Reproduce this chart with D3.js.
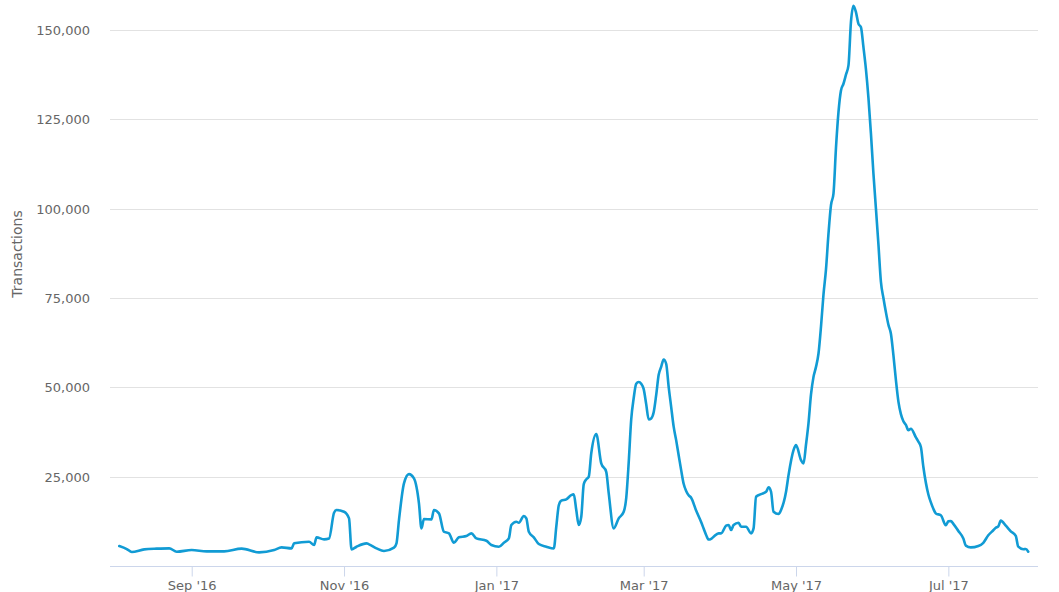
<!DOCTYPE html>
<html>
<head>
<meta charset="utf-8">
<script src="https://cdn.jsdelivr.net/npm/d3@7"></script>
<style>
  html, body { margin: 0; padding: 0; background: #fff; }
  svg { display: block; }
</style>
</head>
<body>
<svg id="chart" width="1059" height="592"></svg>
<script>
const dates = [
"2016-08-03","2016-08-06","2016-08-08","2016-08-13","2016-08-18","2016-08-23","2016-08-26",
"2016-09-01","2016-09-07","2016-09-14","2016-09-21","2016-09-28",
"2016-10-04","2016-10-07","2016-10-11","2016-10-12","2016-10-18","2016-10-20","2016-10-21","2016-10-24","2016-10-26","2016-10-28","2016-10-29",
"2016-11-01","2016-11-03","2016-11-04","2016-11-06","2016-11-10","2016-11-11","2016-11-14","2016-11-17","2016-11-21","2016-11-22","2016-11-23","2016-11-25","2016-11-27","2016-11-29",
"2016-12-01","2016-12-02","2016-12-03","2016-12-06","2016-12-07","2016-12-09","2016-12-11","2016-12-13","2016-12-15","2016-12-17","2016-12-20","2016-12-22","2016-12-24","2016-12-28","2016-12-30",
"2017-01-02","2017-01-04","2017-01-06","2017-01-07","2017-01-09","2017-01-10","2017-01-12","2017-01-13","2017-01-14","2017-01-16","2017-01-18","2017-01-21","2017-01-24","2017-01-25","2017-01-26","2017-01-27","2017-01-29","2017-01-31",
"2017-02-01","2017-02-02","2017-02-03","2017-02-04","2017-02-05","2017-02-06","2017-02-07","2017-02-08","2017-02-10","2017-02-12","2017-02-14","2017-02-15","2017-02-17","2017-02-19","2017-02-21","2017-02-22","2017-02-23","2017-02-24","2017-02-25","2017-02-26","2017-02-27","2017-02-28",
"2017-03-01","2017-03-02","2017-03-03","2017-03-04","2017-03-05","2017-03-06","2017-03-07","2017-03-08","2017-03-09","2017-03-10","2017-03-11","2017-03-12","2017-03-13","2017-03-14","2017-03-15","2017-03-16","2017-03-17","2017-03-18","2017-03-19","2017-03-20","2017-03-22","2017-03-24","2017-03-25","2017-03-26","2017-03-27","2017-03-28","2017-03-29","2017-03-31",
"2017-04-01","2017-04-03","2017-04-04","2017-04-05","2017-04-06","2017-04-08","2017-04-09","2017-04-11","2017-04-13","2017-04-14","2017-04-15","2017-04-17","2017-04-19","2017-04-20","2017-04-21","2017-04-22","2017-04-24","2017-04-25","2017-04-27","2017-04-28","2017-04-30",
"2017-05-01","2017-05-03","2017-05-04","2017-05-05","2017-05-06","2017-05-07","2017-05-08","2017-05-09","2017-05-10","2017-05-11","2017-05-12","2017-05-13","2017-05-14","2017-05-15","2017-05-16","2017-05-17","2017-05-18","2017-05-19","2017-05-20","2017-05-21","2017-05-22","2017-05-23","2017-05-24","2017-05-25","2017-05-26","2017-05-27","2017-05-28","2017-05-29","2017-05-30","2017-05-31",
"2017-06-01","2017-06-02","2017-06-03","2017-06-04","2017-06-05","2017-06-06","2017-06-07","2017-06-08","2017-06-09","2017-06-10","2017-06-11","2017-06-12","2017-06-13","2017-06-14","2017-06-15","2017-06-16","2017-06-18","2017-06-19","2017-06-20","2017-06-21","2017-06-23","2017-06-24","2017-06-25","2017-06-26","2017-06-28","2017-06-30",
"2017-07-01","2017-07-02","2017-07-03","2017-07-05","2017-07-07","2017-07-08","2017-07-10","2017-07-13","2017-07-15","2017-07-17","2017-07-19","2017-07-20","2017-07-21","2017-07-22","2017-07-24","2017-07-26","2017-07-28","2017-07-29","2017-07-31",
"2017-08-01","2017-08-02"
];
const transactions = [
5590,4750,3900,4660,4850,4940,4000,
4470,4100,4100,4850,3820,
4470,5220,4940,6340,6800,5870,8020,7460,7700,14900,15660,
15180,13330,4660,5400,6340,6060,4940,4190,5120,6340,12860,23120,25720,24500,
17530,10540,13140,13050,15660,14730,9590,9140,6520,8020,8390,9140,7740,7070,5870,
5400,6520,7740,11460,12390,12100,13980,13330,9590,8020,6150,5400,4900,11000,17000,18300,18650,19850,
20040,15660,11460,13780,22930,24240,24970,31510,36900,28710,26370,20330,10540,13330,15180,19000,29000,41000,47000,51000,51500,51000,
49500,45300,41000,41300,43000,47800,53500,55730,57800,56600,50130,44540,39000,35230,31000,26840,23000,21000,19800,19100,15500,12300,10500,8700,7400,7600,8190,9140,
9140,11270,11460,10070,11460,12110,10990,10990,9140,10540,19380,20130,20780,22000,20780,15180,14540,15660,20780,25440,32430,
33830,29640,28710,34000,40000,48000,52930,55730,59470,67000,76000,83000,93000,101000,104210,117000,127000,133090,134960,137500,140080,152300,156800,154980,151720,150790,145200,139000,131000,121000,
109800,100000,90000,79500,75000,71000,67500,65000,59000,52000,46000,42500,40500,39500,38000,38400,36000,34800,33300,27700,20000,17800,16000,14700,14200,11400,
12500,12600,11800,9800,7700,5700,5200,5600,6500,8600,10000,10700,11100,12700,11300,9700,8400,5400,4700,
4750,4000
];
const xTickDates = ["2016-09-01","2016-11-01","2017-01-01","2017-03-01","2017-05-01","2017-07-01"];
const yTickValues = [25000, 50000, 75000, 100000, 125000, 150000];
const yTitle = "Transactions";

(function () {
const parse = d3.utcParse("%Y-%m-%d");
const data = dates.map((d, i) => ({ date: parse(d), value: transactions[i] }));

const svg = d3.select("#chart");
const pLeft = 110, pRight = 1038, pTop = 30, pBottom = 566;

// x domain chosen so Sep 1 '16 and Jul 1 '17 land where the reference puts them
const x = d3.scaleUtc()
  .domain([new Date(Date.UTC(2016, 6, 30, 6, 43)), new Date(Date.UTC(2017, 7, 5, 21, 36))])
  .range([pLeft, pRight]);
const y = d3.scaleLinear().domain([0, 150000]).range([pBottom, pTop]);

const font = "'DejaVu Sans', Verdana, sans-serif";

// grid
svg.append("g").selectAll("line").data(yTickValues).join("line")
  .attr("x1", pLeft).attr("x2", pRight)
  .attr("y1", d => Math.round(y(d)) + 0.5).attr("y2", d => Math.round(y(d)) + 0.5)
  .attr("stroke", "#e2e2e2").attr("stroke-width", 1);

// y labels
const fmt = d3.format(",");
svg.append("g").selectAll("text").data(yTickValues).join("text")
  .attr("x", 90).attr("y", d => y(d) + 5)
  .attr("text-anchor", "end")
  .attr("fill", "#666666")
  .style("font-family", font).style("font-size", "13px")
  .text(d => fmt(d));

// y title
svg.append("text")
  .attr("transform", `translate(22,${(pTop + pBottom) / 2 - 44}) rotate(-90)`)
  .attr("text-anchor", "middle")
  .attr("fill", "#666666")
  .style("font-family", font).style("font-size", "14px")
  .text(yTitle);

// x axis
const xAxis = d3.axisBottom(x)
  .tickValues(xTickDates.map(parse))
  .tickFormat(d3.utcFormat("%b '%y"))
  .tickSize(10).tickPadding(4);
const gx = svg.append("g").attr("transform", `translate(0,${pBottom + 0.5})`).call(xAxis);
gx.select(".domain").attr("stroke", "#ccd6eb").attr("d", `M${pLeft},0H${pRight}`);
gx.selectAll(".tick line").attr("stroke", "#ccd6eb");
gx.selectAll(".tick text").attr("fill", "#666666")
  .style("font-family", font).style("font-size", "13px");

// line
const line = d3.line().x(d => x(d.date)).y(d => y(d.value)).curve(d3.curveMonotoneX);
svg.append("path").datum(data)
  .attr("d", line)
  .attr("fill", "none")
  .attr("stroke", "#119bd4")
  .attr("stroke-width", 2.6)
  .attr("stroke-linejoin", "round")
  .attr("stroke-linecap", "round");
})();
</script>
</body>
</html>
